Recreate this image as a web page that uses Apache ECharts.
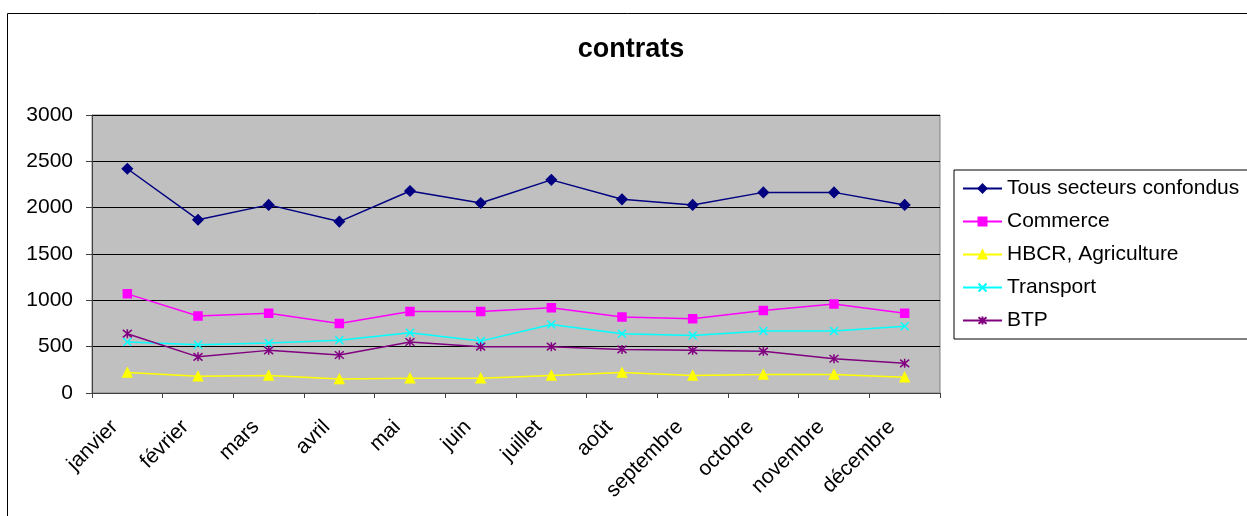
<!DOCTYPE html>
<html>
<head>
<meta charset="utf-8">
<script src="https://cdn.jsdelivr.net/npm/echarts@6/dist/echarts.min.js"></script>
<style>
  html, body { margin: 0; padding: 0; background: #fff; }
  #chart { width: 1247px; height: 516px; }
</style>
</head>
<body>
<div id="chart"></div>
<script>
// Monthly contract counts by sector
const months = ['janvier', 'février', 'mars', 'avril', 'mai', 'juin', 'juillet', 'août', 'septembre', 'octobre', 'novembre', 'décembre'];
const tousSecteurs = [2420, 1870, 2030, 1850, 2180, 2050, 2300, 2090, 2030, 2165, 2165, 2030];
const commerce = [1070, 830, 860, 750, 880, 880, 920, 820, 800, 890, 960, 860];
const hbcrAgriculture = [220, 180, 190, 150, 160, 160, 190, 220, 190, 200, 200, 170];
const transport = [550, 520, 540, 570, 650, 560, 740, 640, 620, 670, 670, 720];
const btp = [640, 390, 460, 410, 550, 500, 500, 470, 460, 450, 370, 320];
const yTicks = { min: 0, max: 3000, interval: 500 };

const FONT = '"Liberation Sans", Arial, sans-serif';

const crossPath = 'path://M0,0L10,10M10,0L0,10';
const starPath = 'path://M0,0L10,10M10,0L0,10M5,-1L5,11';

function lineSeries(name, data, color, symbol, size) {
  return {
    name: name,
    type: 'line',
    data: data,
    symbol: symbol,
    symbolSize: size,
    showAllSymbol: true,
    lineStyle: { color: color, width: 1.5 },
    itemStyle: { color: color, borderColor: color, borderWidth: 1.5 },
    emphasis: { disabled: true },
    animation: false
  };
}

const chart = echarts.init(document.getElementById('chart'));
chart.setOption({
  animation: false,
  backgroundColor: '#ffffff',
  textStyle: { fontFamily: FONT },
  title: {
    text: 'contrats',
    left: 626,
    top: 31,
    textAlign: 'center',
    textStyle: { fontFamily: FONT, fontSize: 27, fontWeight: 'bold', color: '#000' }
  },
  graphic: [{
    type: 'rect',
    shape: { x: 7.5, y: 13.5, width: 1400, height: 700 },
    style: { fill: null, stroke: '#000', lineWidth: 1 },
    silent: true,
    z: -1
  }],
  legend: {
    orient: 'vertical',
    left: 954,
    top: 170,
    padding: [8, 40, 8, 8],
    itemGap: 12,
    itemWidth: 39,
    itemHeight: 10,
    borderColor: '#000',
    borderWidth: 1,
    backgroundColor: '#fff',
    textStyle: { fontFamily: FONT, fontSize: 21, color: '#000', lineHeight: 21 },
    data: ['Tous secteurs confondus', 'Commerce', 'HBCR, Agriculture', 'Transport', 'BTP']
  },
  grid: {
    left: 92,
    top: 115,
    width: 848,
    height: 278,
    show: true,
    backgroundColor: '#C0C0C0',
    borderColor: '#808080',
    borderWidth: 1,
    containLabel: false
  },
  xAxis: {
    type: 'category',
    data: months,
    boundaryGap: true,
    axisLine: { lineStyle: { color: '#404040', width: 1 } },
    axisTick: { show: true, length: 5, lineStyle: { color: '#404040' } },
    axisLabel: { rotate: 45, fontFamily: FONT, fontSize: 21, color: '#000', margin: 18, padding: [0, 18, 0, 0], interval: 0 },
    splitLine: { show: false }
  },
  yAxis: {
    type: 'value',
    min: yTicks.min,
    max: yTicks.max,
    interval: yTicks.interval,
    axisLine: { show: true, lineStyle: { color: '#404040', width: 1 } },
    axisTick: { show: true, length: 6, lineStyle: { color: '#404040' } },
    axisLabel: { fontFamily: FONT, fontSize: 21, color: '#000', margin: 19, formatter: function (v) { return String(v); } },
    splitLine: { show: true, lineStyle: { color: '#000', width: 1 } }
  },
  series: [
    lineSeries('Tous secteurs confondus', tousSecteurs, '#000080', 'diamond', 10),
    lineSeries('Commerce', commerce, '#FF00FF', 'rect', 8),
    lineSeries('HBCR, Agriculture', hbcrAgriculture, '#FFFF00', 'triangle', 9),
    lineSeries('Transport', transport, '#00FFFF', crossPath, 8),
    lineSeries('BTP', btp, '#800080', starPath, 9)
  ]
});
</script>
</body>
</html>
